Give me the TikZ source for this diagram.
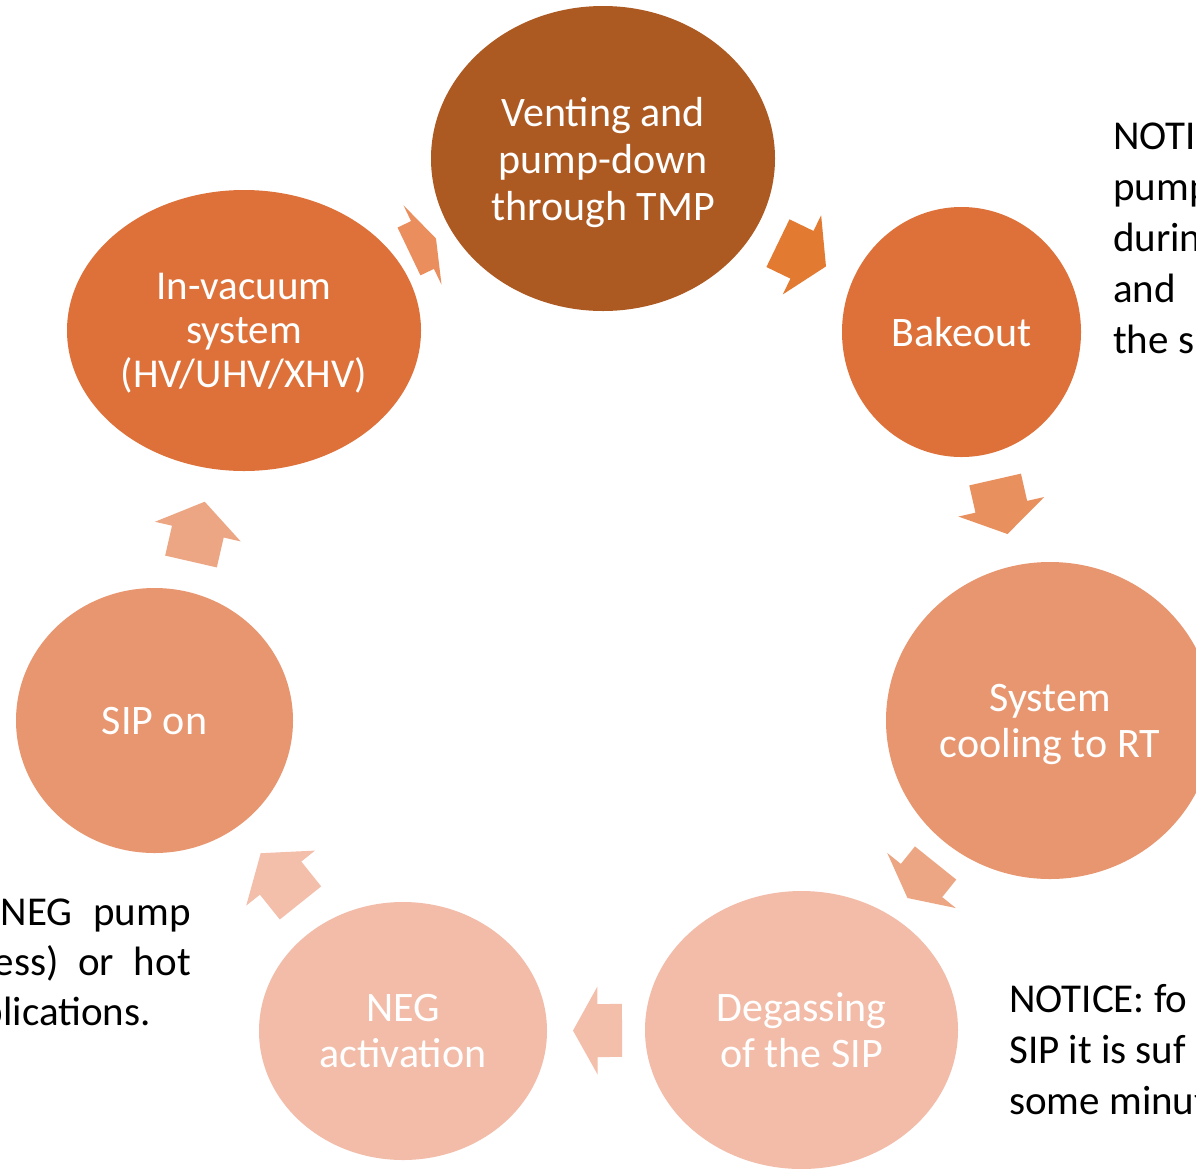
\documentclass[tikz,border=0pt]{standalone}
\usepackage{fontspec}
\setmainfont{Carlito}
\usetikzlibrary{shapes.geometric,calc}

\definecolor{rust}{RGB}{173,89,34}
\definecolor{burnt}{RGB}{221,113,57}
\definecolor{salmon}{RGB}{232,150,112}
\definecolor{blush}{RGB}{242,188,169}
\definecolor{arrA}{RGB}{234,142,93}
\definecolor{arrB}{RGB}{226,122,50}
\definecolor{arrC}{RGB}{233,144,95}
\definecolor{arrD}{RGB}{236,166,132}
\definecolor{arrE}{RGB}{243,190,170}

\tikzset{
  stage/.style={ellipse, inner sep=0pt, outer sep=0pt, text=white, align=center,
                text depth=0pt, font=\fontsize{42}{46}\selectfont},
  note/.style={inner sep=0pt, text=black, font=\fontsize{41}{51}\selectfont},
}

% block arrow laid along the line joining two stage centres
% #1 from, #2 to, #3 rear position, #4 tip position, #5 fill colour
\newcommand\cyclearrow[5]{%
  \coordinate (ar) at ($(#1.center)!#3!(#2.center)$);
  \coordinate (at) at ($(#1.center)!#4!(#2.center)$);
  \coordinate (ah) at ($(ar)!0.5!(at)$);
  \fill[#5] ($(ar)!26.5pt!90:(at)$) -- ($(ah)!26.5pt!90:(at)$) -- ($(ah)!44pt!90:(at)$)
    -- (at) -- ($(ah)!44pt!-90:(at)$) -- ($(ah)!26.5pt!-90:(at)$)
    -- ($(ar)!26.5pt!-90:(at)$) -- cycle;
}

\begin{document}
\begin{tikzpicture}[x=1pt,y=-1pt]
\useasboundingbox (0,0) rectangle (1196,1168);
\fill[white] (0,0) rectangle (1196,1168);
\clip (0,0) rectangle (1196,1168);

% stages of the cycle
\node[stage, fill=rust,   minimum width=344pt, minimum height=305pt,
      font=\fontsize{42}{47}\selectfont] (vent) at (603,158.5) {Venting and\\pump-down\\through TMP};
\node[stage, fill=burnt,  minimum width=239pt, minimum height=250pt] (bake)  at (961.5,332)  {Bakeout};
\node[stage, fill=salmon, minimum width=328pt, minimum height=317pt] (cool)  at (1050,720.5) {System\\cooling to RT};
\node[stage, fill=blush,  minimum width=313pt, minimum height=278pt] (degas) at (801.5,1030) {Degassing\\of the SIP};
\node[stage, fill=blush,  minimum width=288pt, minimum height=258pt] (neg)   at (403,1031)   {NEG\\activation};
\node[stage, fill=salmon, minimum width=277pt, minimum height=265pt] (sip)   at (154.5,720.5){SIP on};
\node[stage, fill=burnt,  minimum width=354pt, minimum height=281pt,
      font=\fontsize{41}{44}\selectfont] (invac) at (244,330.5) {In-vacuum\\system\\(HV/UHV/XHV)};

% arrows between consecutive stages
\cyclearrow{invac}{vent}{0.4596}{0.5348}{arrA}
\cyclearrow{vent}{bake}{0.488}{0.622}{arrB}
\cyclearrow{bake}{cool}{0.3797}{0.52}{arrC}
\cyclearrow{cool}{degas}{0.4604}{0.5735}{arrD}
\cyclearrow{degas}{neg}{0.4504}{0.5734}{arrE}
\cyclearrow{neg}{sip}{0.4125}{0.5726}{arrE}
\cyclearrow{sip}{invac}{0.4077}{0.561}{arrD}

% side notes
\foreach \t [count=\i] in {NOTI,pump,durin,and,the s}
  \node[note, anchor=base west] (tr\i) at (1113,{149+51*(\i-1)}) {\t};
\foreach \t [count=\i] in {NOTICE: fo,SIP it is suf,some minut}
  \node[note, anchor=base west] (br\i) at (1009,{1012+51*(\i-1)}) {\t};
\node[note, anchor=base east] (bl1) at (191,925)  {\makebox[190pt][s]{NEG pump}};
\node[note, anchor=base east] (bl2) at (191,975)  {\makebox[197pt][s]{ess) or hot}};
\node[note, anchor=base east] (bl3) at (151,1025) {plications.};
\end{tikzpicture}
\end{document}
